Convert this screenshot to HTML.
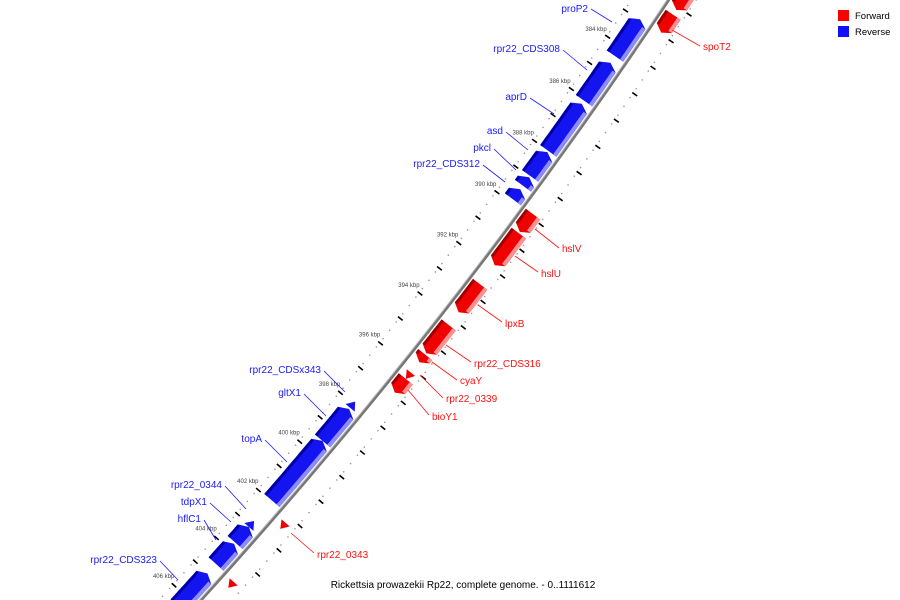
<!DOCTYPE html>
<html><head><meta charset="utf-8">
<style>
html,body{margin:0;padding:0;background:#fff;width:900px;height:600px;overflow:hidden;}
svg{display:block;overflow:hidden;font-family:"Liberation Sans","DejaVu Sans",sans-serif;}
</style></head>
<body>
<svg id="map" width="900" height="600" viewBox="0 0 900 600" xmlns="http://www.w3.org/2000/svg">
<g id="ticks"></g>
<g id="backbone"></g>
<g id="features"></g>
<g id="labels"></g>
<g>
<rect x="838" y="10" width="11" height="11" fill="#ff0000"/>
<text x="855" y="19" font-size="9.5" fill="#000">Forward</text>
<rect x="838" y="26" width="11" height="11" fill="#1010ff"/>
<text x="855" y="35" font-size="9.5" fill="#000">Reverse</text>
</g>
<text x="463" y="588" font-size="10" text-anchor="middle" fill="#000">Rickettsia prowazekii Rp22, complete genome. - 0..1111612</text>
</svg>
<script>
// ---- data ----
const featNames = ["proP2","rpr22_CDS308","aprD","asd","pkcl","rpr22_CDS312","spoT2","rpr22_top","hslV","hslU","lpxB","rpr22_CDS316","cyaY","rpr22_0339","bioY1","rpr22_0343","rpr22_last","rpr22_CDSx343","gltX1","topA","rpr22_0344","tdpX1","hflC1","rpr22_CDS323"];
const featStart = [383.47,385.12,386.69,388.55,389.52,389.99,382.78,381.9,390.38,391.12,393.12,394.72,395.9,396.62,396.87,402.72,405.17,398.42,398.72,400.02,403.32,403.57,404.27,405.52];
const featEnd   = [384.87,386.57,388.5,389.47,389.85,390.38,383.45,382.6,391.07,392.37,394.22,395.85,396.2,396.87,397.42,402.97,405.42,398.67,400.02,402.47,403.57,404.22,405.12,406.9];
const featStrand= [-1,-1,-1,-1,-1,-1,1,1,1,1,1,1,1,1,1,1,1,-1,-1,-1,-1,-1,-1,-1];
const tickKbp = [380,381,382,383,384,385,386,387,388,389,390,391,392,393,394,395,396,397,398,399,400,401,402,403,404,405,406,407];
const tickLabelKbp = [384,386,388,390,392,394,396,398,400,402,404,406];
const labelText = ["proP2","rpr22_CDS308","aprD","asd","pkcl","rpr22_CDS312","rpr22_CDSx343","gltX1","topA","rpr22_0344","tdpX1","hflC1","rpr22_CDS323","spoT2","hslV","hslU","lpxB","rpr22_CDS316","cyaY","rpr22_0339","bioY1","rpr22_0343"];
const labelStrand = [-1,-1,-1,-1,-1,-1,-1,-1,-1,-1,-1,-1,-1,1,1,1,1,1,1,1,1,1];
const labelX = [588,560,527,503,491,480,321,301,262,222,207,201,157,703,562,541,505,474,460,446,432,317];
const labelY = [12,52,100,134,151,167,373,396,442,488,505,522,563,50,252,277,327,367,384,402,420,558];
const lineX1 = [591,563,530,506,494,483,324,304,265,225,210,204,160,700,559,538,502,471,457,443,429,314];
const lineY1 = [9,50,98,132,149,165,371,394,440,486,503,520,561,46,248,272,322,362,380,398,415,553];
const lineX2 = [612,587,554,528,516,505,345,326,287,246,231,216,178,672,535,515,478,446,432,420,408,291];
const lineY2 = [22,70,114,150,170,182,392,416,462,509,522,540,580,30,229,256,305,345,362,375,390,533];

// ---- geometry ----
const CX=-3562, CY=-2814, R=5081, A0=34.18, DEG_PER_KBP=0.3608;
function ang(k){return (A0+(k-384)*DEG_PER_KBP)*Math.PI/180;}
function pt(k,dr){const a=ang(k);return [CX+(R+dr)*Math.cos(a),CY+(R+dr)*Math.sin(a)];}
const NS="http://www.w3.org/2000/svg";
function mk(tag,attrs,parent){const e=document.createElementNS(NS,tag);for(const k in attrs)e.setAttribute(k,attrs[k]);parent.appendChild(e);return e;}
function band(k1,k2,r1,r2){let pts=[];const n=Math.max(2,Math.ceil((k2-k1)*8));for(let i=0;i<=n;i++)pts.push(pt(k1+(k2-k1)*i/n,r1));for(let i=n;i>=0;i--)pts.push(pt(k1+(k2-k1)*i/n,r2));return pts;}
function ps(p){return p.map(q=>q[0].toFixed(1)+","+q[1].toFixed(1)).join(" ");}
function inView(p){return p[0]>-5&&p[0]<905&&p[1]>-5&&p[1]<598;}

// ticks
const gT=document.getElementById("ticks");
for(let k=380;k<=408;k+=1/3){
  const a=pt(k,-31),b=pt(k,23);
  if(inView(a)){
    const d1=mk("circle",{cx:a[0],cy:a[1],r:0.8,fill:"#999"},gT);
    
    
  }
  if(inView(b)){
    const d2=mk("circle",{cx:b[0],cy:b[1],r:0.8,fill:"#999"},gT);
    
    
  }
}
tickKbp.forEach(k=>{
  const k2=k+0.5;
  const a=pt(k2,-33),b=pt(k2,-27),c=pt(k2,22),d=pt(k2,28);
  if(inView(a)){
    const t1=mk("line",{x1:a[0],y1:a[1],x2:b[0],y2:b[1],stroke:"#000","stroke-width":1.6},gT);
    
    
  }
  if(inView(d)){
    const t2=mk("line",{x1:c[0],y1:c[1],x2:d[0],y2:d[1],stroke:"#000","stroke-width":1.6},gT);
    
    
  }
});
tickLabelKbp.forEach(k=>{
  const p=pt(k+0.5,-44);
  const t=mk("text",{x:p[0],y:p[1]+2,"font-size":6,"text-anchor":"middle",fill:"#444"},gT);
  t.textContent=k+" kbp";
  
  
});

// backbone
const gB=document.getElementById("backbone");
const p1=pt(380,0),p2=pt(407.5,0);
const bb=mk("path",{d:`M${p1[0]},${p1[1]} A${R},${R} 0 0 1 ${p2[0]},${p2[1]}`,fill:"none",stroke:"#777","stroke-width":3},gB);


const bb2=mk("path",{d:`M${p1[0]},${p1[1]} A${R},${R} 0 0 1 ${p2[0]},${p2[1]}`,fill:"none",stroke:"#bbb","stroke-width":1,transform:"translate(-1,-1)"},gB);



// features
const gF=document.getElementById("features");
const AH=0.17;
featNames.forEach((nm,i)=>{
  const s=featStart[i],e=featEnd[i],st=featStrand[i];
  const g=mk("g",{},gF);
  
  
  let rIn,rOut,main,light,dark;
  if(st<0){rIn=-23;rOut=-3;main="#1414f0";light="#8c8cff";dark="#0000a8";}
  else{rIn=3;rOut=21;main="#f00000";light="#ff9090";dark="#a00000";}
  const rm=(rIn+rOut)/2;
  const len=e-s;
  let poly;
  if(len<=0.3){
    const h=(rOut-rIn)*0.3;
    if(st<0) poly=[pt(s,rm),pt(e,rm-h),pt(e,rm+h)];
    else poly=[pt(e,rm),pt(s,rm-h),pt(s,rm+h)];
    const p=mk("polygon",{points:ps(poly),fill:main},g);
    
    
    return;
  }
  let b1,b2,tip;
  if(st<0){b1=s+AH;b2=e;tip=s;}else{b1=s;b2=e-AH;tip=e;}
  let inner=[],outer=[];const n=Math.max(2,Math.ceil((b2-b1)*8));
  for(let j=0;j<=n;j++){inner.push(pt(b1+(b2-b1)*j/n,rIn));outer.push(pt(b1+(b2-b1)*j/n,rOut));}
  let full;
  if(st<0) full=[pt(tip,rm)].concat(inner,outer.reverse());
  else full=inner.concat([pt(tip,rm)],outer.reverse());
  const p=mk("polygon",{points:ps(full),fill:main},g);
  
  
  const sh=mk("polygon",{points:ps(band(b1,b2,rOut-4,rOut)),fill:light},g);
  
  
  const dk=mk("polygon",{points:ps(band(b1,b2,rIn,rIn+3)),fill:dark},g);
  
  
});

// labels
const gL=document.getElementById("labels");
labelText.forEach((t,i)=>{
  const col=labelStrand[i]<0?"#1a1aff":"#ff1010";
  const ln=mk("line",{x1:lineX1[i],y1:lineY1[i],x2:lineX2[i],y2:lineY2[i],stroke:col,"stroke-width":0.8},gL);
  
  
  const tx=mk("text",{x:labelX[i],y:labelY[i],"font-size":10,"text-anchor":labelStrand[i]<0?"end":"start",fill:col},gL);
  tx.textContent=t;
  
  
});
</script>
</body></html>
